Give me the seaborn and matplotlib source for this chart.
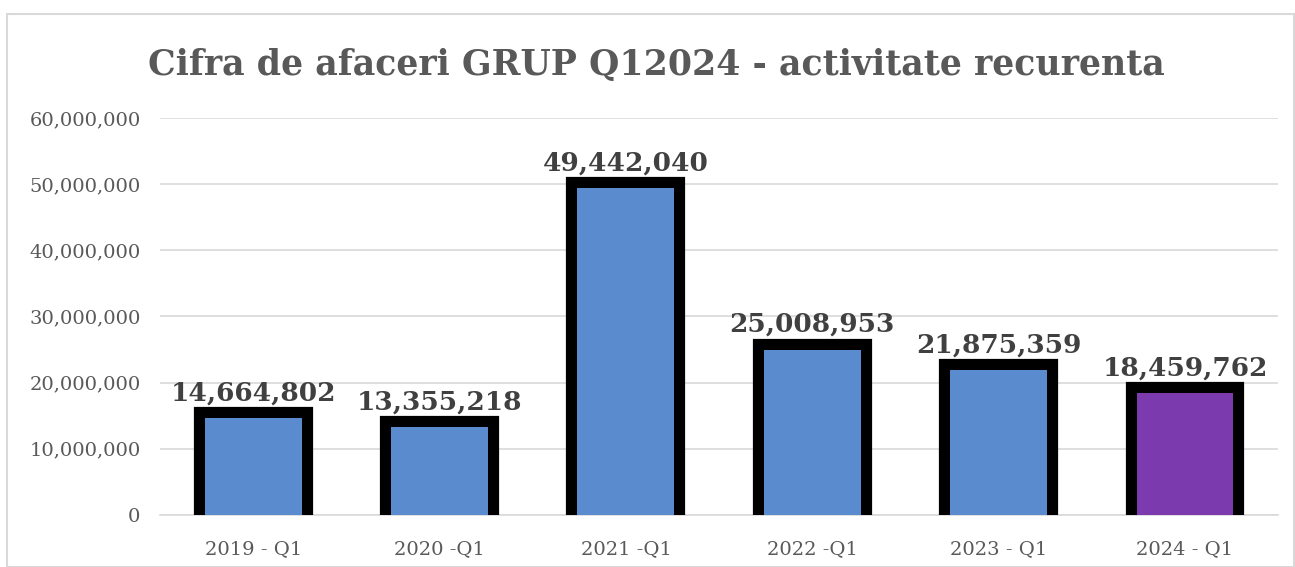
import matplotlib.pyplot as plt
import matplotlib.patheffects as pe
from matplotlib.patches import Rectangle
from matplotlib.ticker import FuncFormatter
import seaborn as sns
import pandas as pd

# date
perioade = ['2019 - Q1', '2020 -Q1', '2021 -Q1', '2022 -Q1', '2023 - Q1', '2024 - Q1']
cifra_afaceri = [14664802, 13355218, 49442040, 25008953, 21875359, 18459762]
culori = ['#5B8BCF', '#5B8BCF', '#5B8BCF', '#5B8BCF', '#5B8BCF', '#7B3AAE']

df = pd.DataFrame({'Perioada': perioade, 'Cifra': cifra_afaceri})

sns.set_style('white')
plt.rcParams['font.family'] = ['DejaVu Serif']

fig = plt.figure(figsize=(12.95, 5.67), dpi=100)
ax = fig.add_axes([0.1236, 0.0917, 0.8634, 0.7003])

sns.barplot(data=df, x='Perioada', y='Cifra', hue='Perioada', palette=culori,
            saturation=1, width=0.52, legend=False, ax=ax, zorder=3, linewidth=0)

# contur negru gros in spatele barelor
for p in ax.patches:
    p.set_path_effects([pe.withStroke(linewidth=16, foreground='black')])

ax.set_ylim(0, 60000000)
ax.set_yticks(range(0, 60000001, 10000000))
ax.yaxis.set_major_formatter(FuncFormatter(lambda v, _: f'{int(v):,}'))
ax.grid(axis='y', color='#D9D9D9', linewidth=1.2, zorder=0)
ax.set_axisbelow(True)
for s in ['left', 'right', 'top']:
    ax.spines[s].set_visible(False)
ax.spines['bottom'].set_color('#D9D9D9')
ax.spines['bottom'].set_linewidth(1.2)
ax.tick_params(axis='both', length=0, labelsize=14, labelcolor='#595959')
ax.tick_params(axis='y', pad=14)
ax.tick_params(axis='x', pad=18)
ax.set_xlabel('')
ax.set_ylabel('')

# etichete de valoare
for p in ax.patches:
    h = p.get_height()
    if h > 0:
        ax.annotate(f'{int(round(h)):,}', (p.get_x() + p.get_width() / 2, h),
                    xytext=(0, 9), textcoords='offset points', ha='center', va='bottom',
                    fontsize=19, fontweight='bold', color='#404040', zorder=5)

fig.text(0.507, 0.885, 'Cifra de afaceri GRUP Q12024 - activitate recurenta',
         ha='center', va='center', fontsize=25, fontweight='bold', color='#595959')

fig.patches.append(Rectangle((0.0054, 0.0), 0.994, 0.975, transform=fig.transFigure,
                             fill=False, edgecolor='#D9D9D9', linewidth=1.5))

plt.savefig('out.png', dpi=100)
